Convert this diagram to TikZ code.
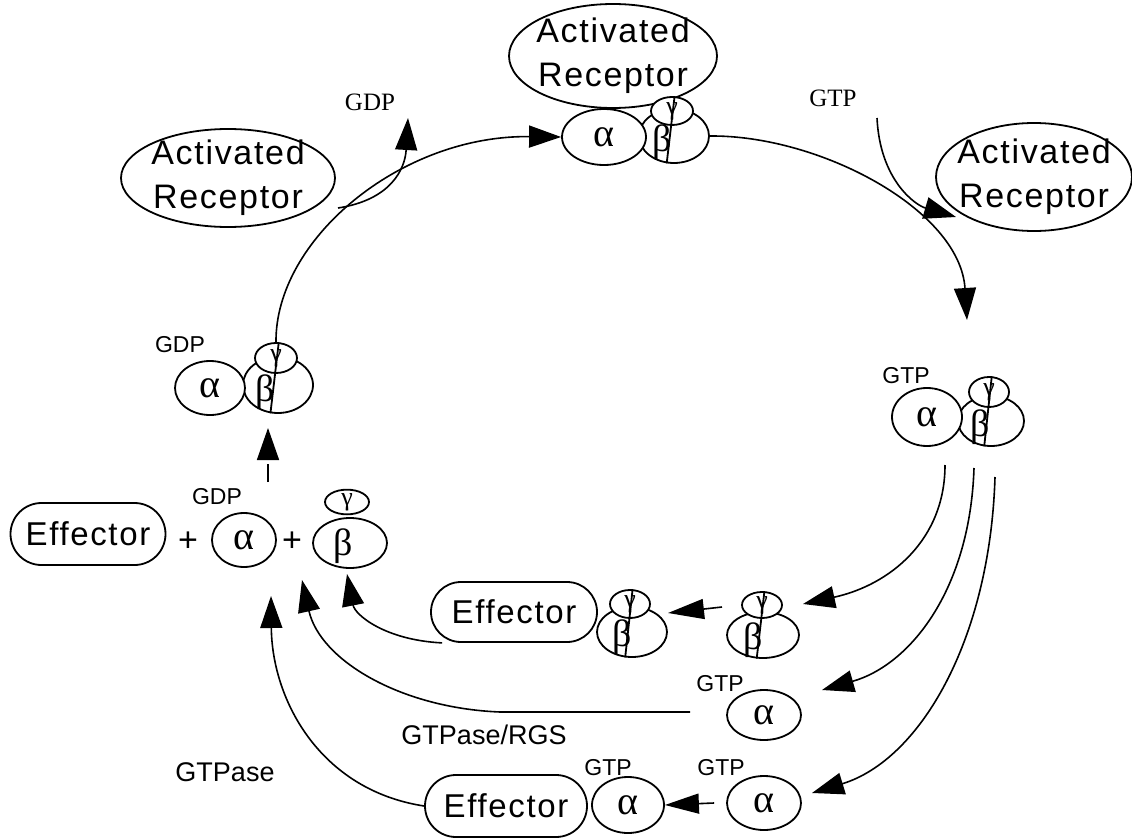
\documentclass[tikz,border=0pt]{standalone}
\usepackage{fontspec}
\setmainfont{Liberation Sans}
\newfontfamily\labf{Liberation Sans}[LetterSpace=5]
\newfontfamily\smf{Liberation Sans}
\newfontfamily\gkf{Liberation Serif}
\newfontfamily\serf{Liberation Serif}
\usetikzlibrary{shapes.geometric,arrows.meta,calc}
\tikzset{
  ell/.style={draw, ellipse, line width=1.8pt, inner sep=0pt, fill=white},
  recep/.style={ell, inner sep=-30pt, align=center, font=\labf\fontsize{34}{44}\selectfont},
  effbox/.style={draw, rounded corners=30pt, line width=1.8pt, inner sep=0pt, fill=white, minimum height=60pt, font=\labf\fontsize{33}{34}\selectfont},
  ga/.style={ell, font=\gkf\fontsize{40}{40}\selectfont},
  gb/.style={font=\gkf\fontsize{38}{38}\selectfont, inner sep=0pt},
  gg/.style={ell, font=\gkf\fontsize{26}{26}\selectfont},
  stem/.style={line width=1.8pt},
  small/.style={font=\smf\fontsize{23}{23}\selectfont, inner sep=0pt},
  serifl/.style={font=\serf\fontsize{25}{25}\selectfont, inner sep=0pt},
  big/.style={font=\smf\fontsize{27}{27}\selectfont, inner sep=0pt},
  plus/.style={font=\smf\fontsize{34}{34}\selectfont, inner sep=0pt},
  conn/.style={line width=1.6pt, -{Triangle[length=32pt,width=22pt]}},
}
\begin{document}
\begin{tikzpicture}[x=1pt,y=-1pt]
\useasboundingbox (0,0) rectangle (1132,840);

% receptors
\node[recep, minimum width=208pt, minimum height=104pt] (tr) at (613,56) {Activated\\Receptor};
\node[recep, minimum width=214pt, minimum height=98pt] (lr) at (228,178) {Activated\\Receptor};
\node[recep, minimum width=196pt, minimum height=108pt] (rr) at (1034,177) {Activated\\Receptor};
\node[serifl] (gdpt) at (370,102) {GDP};
\node[serifl] (gtpt) at (833,98) {GTP};

% top complex
\node[ell, minimum width=70pt, minimum height=54pt] (tb) at (674,136) {};
\node[ga, minimum width=84pt, minimum height=56pt] (ta) at (604,137) {α};
\node[gg, minimum width=42pt, minimum height=28pt] (tg) at (672,111) {γ};
\node[gb] (tbt) at (662,142) {β};
\draw[stem] (tg.80) -- (tb.255);

% left GDP complex
\node[small] (lgdp) at (180,345) {GDP};
\node[ell, minimum width=70pt, minimum height=56pt] (lb) at (278,385) {};
\node[ga, minimum width=70pt, minimum height=54pt] (la) at (210,388) {α};
\node[gg, minimum width=42pt, minimum height=30pt] (lg) at (276,358) {γ};
\node[gb] (lbt) at (265,392) {β};
\draw[stem] (lg.80) -- (lb.255);

% right GTP complex
\node[small] (rgtp) at (906,376) {GTP};
\node[ell, minimum width=66pt, minimum height=50pt] (rb) at (991,421) {};
\node[ga, minimum width=70pt, minimum height=58pt] (ra) at (927,417) {α};
\node[gg, minimum width=40pt, minimum height=30pt] (rg) at (989,392) {γ};
\node[gb] (rbt) at (980,427) {β};
\draw[stem] (rg.80) -- (rb.255);

% bottom-left row
\node[effbox, minimum width=155pt, minimum height=62pt, rounded corners=31pt] (le) at (88,534) {Effector};
\node[plus] (p1) at (188,542) {+};
\node[small] (lgdp2) at (217,497) {GDP};
\node[ga, minimum width=64pt, minimum height=54pt] (ma) at (244,540) {α};
\node[plus] (p2) at (292,542) {+};
\node[ell, minimum width=74pt, minimum height=50pt] (mb) at (350,543) {};
\node[gb] (mbt) at (343,546) {β};
\node[gg, minimum width=44pt, minimum height=22pt] (mg) at (347,502) {γ};

% row 1
\node[effbox, minimum width=166pt] (r1e) at (514,612) {Effector};
\node[ell, minimum width=70pt, minimum height=50pt] (r1b1) at (632,632) {};
\node[gg, minimum width=40pt, minimum height=28pt] (r1g1) at (630,604) {γ};
\node[gb] (r1bt1) at (622,637) {β};
\draw[stem] (r1g1.80) -- (r1b1.255);
\node[ell, minimum width=72pt, minimum height=46pt] (r1b2) at (763,635) {};
\node[gg, minimum width=40pt, minimum height=26pt] (r1g2) at (762,605) {γ};
\node[gb] (r1bt2) at (753,640) {β};
\draw[stem] (r1g2.80) -- (r1b2.255);

% row 2
\node[small] (r2gtp) at (720,684) {GTP};
\node[ga, minimum width=74pt, minimum height=50pt] (r2a) at (764,715) {α};

% row 3
\node[effbox, minimum width=162pt, minimum height=62pt, rounded corners=31pt] (r3e) at (506,806) {Effector};
\node[small] (r3gtp1) at (608,768) {GTP};
\node[ga, minimum width=72pt, minimum height=56pt] (r3a1) at (628,805) {α};
\node[small] (r3gtp2) at (721,768) {GTP};
\node[ga, minimum width=74pt, minimum height=54pt] (r3a2) at (764,803) {α};

\node[big] (rgs) at (484,735) {GTPase/RGS};
\node[big] (gtpase) at (225,772) {GTPase};

% coordinates
\coordinate (gdpstart) at (338,208);
\coordinate (gdptip) at (408,118);
\coordinate (gtpstart) at (877,118);
\coordinate (gtptip) at (956,217);
\coordinate (rtip) at (967,320);
\coordinate (dstart) at (268,482);
\coordinate (dtip) at (268,428);
\coordinate (s1) at (945,465);
\coordinate (s2) at (974,468);
\coordinate (s3) at (995,477);
\coordinate (t1) at (803,604);
\coordinate (t2) at (822,690);
\coordinate (t3) at (812,793);
\coordinate (u1) at (347,574);
\coordinate (u2) at (302,580);
\coordinate (u3) at (271,596);
\coordinate (ba) at (722,607);
\coordinate (bb) at (668,613);
\coordinate (rgsl) at (690,712);

% cycle
\draw[conn] (lg.north) .. controls (275,240) and (400,135) .. (ta.west);
\draw[conn] (gdpstart) .. controls (390,200) and (405,170) .. (gdptip);
\draw[conn] (gtpstart) .. controls (880,180) and (915,205) .. (gtptip);
\draw[conn] (tb.east) .. controls (820,135) and (960,210) .. (rtip);
\draw[conn, dash pattern=on 18pt off 7pt] (dstart) -- (dtip);

% right fan
\draw[conn] (s1) .. controls (945,540) and (890,585) .. (t1);
\draw[conn] (s2) .. controls (970,590) and (910,665) .. (t2);
\draw[conn] (s3) .. controls (990,640) and (920,760) .. (t3);

% row arrows
\draw[conn, -{Triangle[length=36pt,width=20pt]}] (ba) -- (bb);
\draw[conn, -{Triangle[length=34pt,width=20pt]}] ([xshift=-12pt]r3a2.west) -- (r3a1.east);

% bottom-left arcs
\draw[conn] ([xshift=12pt]r1e.south west) .. controls (385,640) and (355,615) .. (u1);
\draw[conn] (rgsl) -- (500,712) .. controls (400,708) and (320,660) .. (u2);
\draw[conn] (r3e.west) .. controls (320,790) and (272,700) .. (u3);
\end{tikzpicture}
\end{document}
